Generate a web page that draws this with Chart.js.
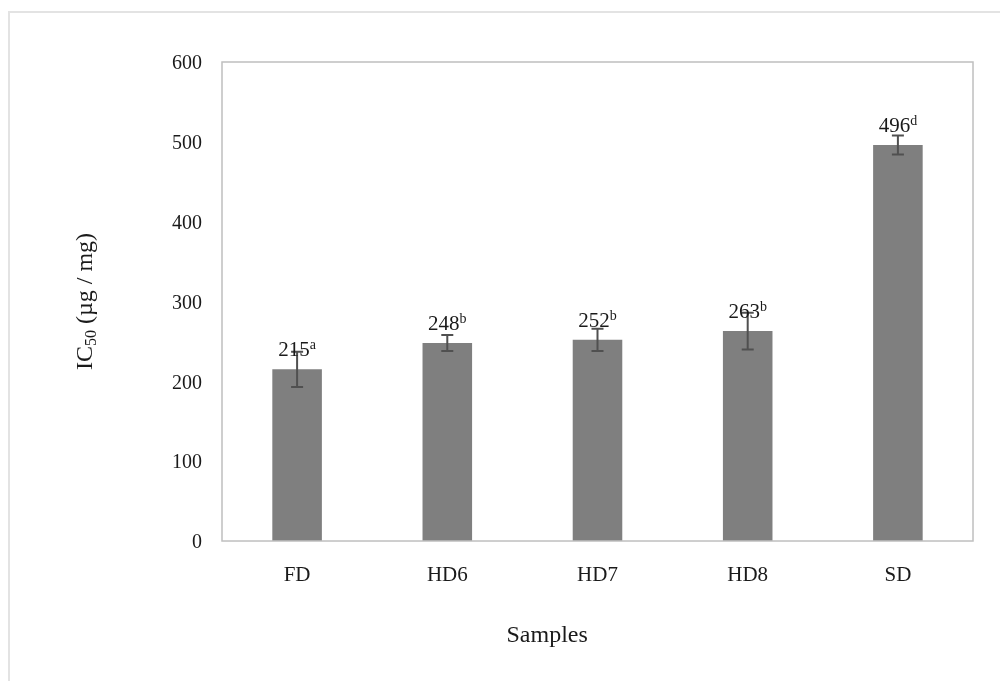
<!DOCTYPE html>
<html>
<head>
<meta charset="utf-8">
<script src="https://cdn.jsdelivr.net/npm/chart.js@4"></script>
<style>
  html, body { margin: 0; padding: 0; background: #fff; }
  #wrap { position: relative; width: 1000px; height: 681px; overflow: hidden; }
  #frame { position: absolute; left: 8px; top: 11px; width: 1010px; height: 700px; border: 2px solid #e3e3e3; box-sizing: border-box; }
  canvas { position: absolute; left: 0; top: 0; }
</style>
</head>
<body>
<div id="wrap">
  <div id="frame"></div>
  <canvas id="chart" width="1000" height="681"></canvas>
</div>
<script>
const categories = ['FD', 'HD6', 'HD7', 'HD8', 'SD'];
const ic50 = [215, 248, 252, 263, 496];
const errors = [22, 10, 14, 23, 12];
const letters = ['a', 'b', 'b', 'b', 'd'];
const yMin = 0, yMax = 600, yStep = 100;

const serif = '"Liberation Serif", "Times New Roman", serif';
const textColor = '#1a1a1a';

// error bars, value labels with superscripts, plot border and axis titles
const extras = {
  id: 'extras',
  afterDatasetsDraw(chart) {
    const ctx = chart.ctx;
    const area = chart.chartArea;
    const y = chart.scales.y;
    const meta = chart.getDatasetMeta(0);

    ctx.save();
    ctx.strokeStyle = '#bfbfbf';
    ctx.lineWidth = 1.5;
    ctx.strokeRect(area.left, area.top, area.right - area.left, area.bottom - area.top);

    ctx.strokeStyle = '#505050';
    ctx.lineWidth = 2;
    meta.data.forEach((bar, i) => {
      const cx = bar.x;
      const top = y.getPixelForValue(ic50[i] + errors[i]);
      const bot = y.getPixelForValue(ic50[i] - errors[i]);
      ctx.beginPath();
      ctx.moveTo(cx, top); ctx.lineTo(cx, bot);
      ctx.moveTo(cx - 6, top); ctx.lineTo(cx + 6, top);
      ctx.moveTo(cx - 6, bot); ctx.lineTo(cx + 6, bot);
      ctx.stroke();
    });

    ctx.fillStyle = textColor;
    ctx.textBaseline = 'alphabetic';
    ctx.textAlign = 'left';
    meta.data.forEach((bar, i) => {
      const main = String(ic50[i]);
      ctx.font = '21px ' + serif;
      const w1 = ctx.measureText(main).width;
      ctx.font = '14px ' + serif;
      const w2 = ctx.measureText(letters[i]).width;
      const start = bar.x - (w1 + w2) / 2;
      const base = bar.y - 13;
      ctx.font = '21px ' + serif;
      ctx.fillText(main, start, base);
      ctx.font = '14px ' + serif;
      ctx.fillText(letters[i], start + w1, base - 7);
    });

    // x axis title
    ctx.font = '24px ' + serif;
    ctx.textAlign = 'center';
    ctx.textBaseline = 'middle';
    ctx.fillText('Samples', area.left + (area.right - area.left) * 0.433, 636);

    // y axis title with subscript
    ctx.translate(92, area.top + (area.bottom - area.top) * 0.5);
    ctx.rotate(-Math.PI / 2);
    const p1 = 'IC', p2 = '50', p3 = ' (µg / mg)';
    ctx.font = '24px ' + serif;
    const a1 = ctx.measureText(p1).width, a3 = ctx.measureText(p3).width;
    ctx.font = '16px ' + serif;
    const a2 = ctx.measureText(p2).width;
    let sx = -(a1 + a2 + a3) / 2;
    ctx.textAlign = 'left';
    ctx.textBaseline = 'alphabetic';
    ctx.font = '24px ' + serif;
    ctx.fillText(p1, sx, 0);
    sx += a1;
    ctx.font = '16px ' + serif;
    ctx.fillText(p2, sx, 4);
    sx += a2;
    ctx.font = '24px ' + serif;
    ctx.fillText(p3, sx, 0);
    ctx.restore();
  }
};

new Chart(document.getElementById('chart').getContext('2d'), {
  type: 'bar',
  data: {
    labels: categories,
    datasets: [{
      label: 'IC50',
      data: ic50,
      backgroundColor: '#7f7f7f',
      borderWidth: 0,
      barPercentage: 0.33,
      categoryPercentage: 1
    }]
  },
  options: {
    responsive: false,
    animation: false,
    devicePixelRatio: 1,
    layout: { padding: { top: 62, right: 27, left: 0, bottom: 0 } },
    plugins: { legend: { display: false }, tooltip: { enabled: false } },
    scales: {
      x: {
        grid: { display: false, drawTicks: false },
        border: { display: false },
        ticks: { color: textColor, font: { family: serif, size: 21 }, padding: 22 },
        afterFit: s => { s.height = 140; }
      },
      y: {
        min: yMin,
        max: yMax,
        grid: { display: false, drawTicks: false },
        border: { display: false },
        ticks: { stepSize: yStep, color: textColor, font: { family: serif, size: 20 }, padding: 20, labelOffset: 2 },
        afterFit: s => { s.width = 222; }
      }
    }
  },
  plugins: [extras]
});
</script>
</body>
</html>
